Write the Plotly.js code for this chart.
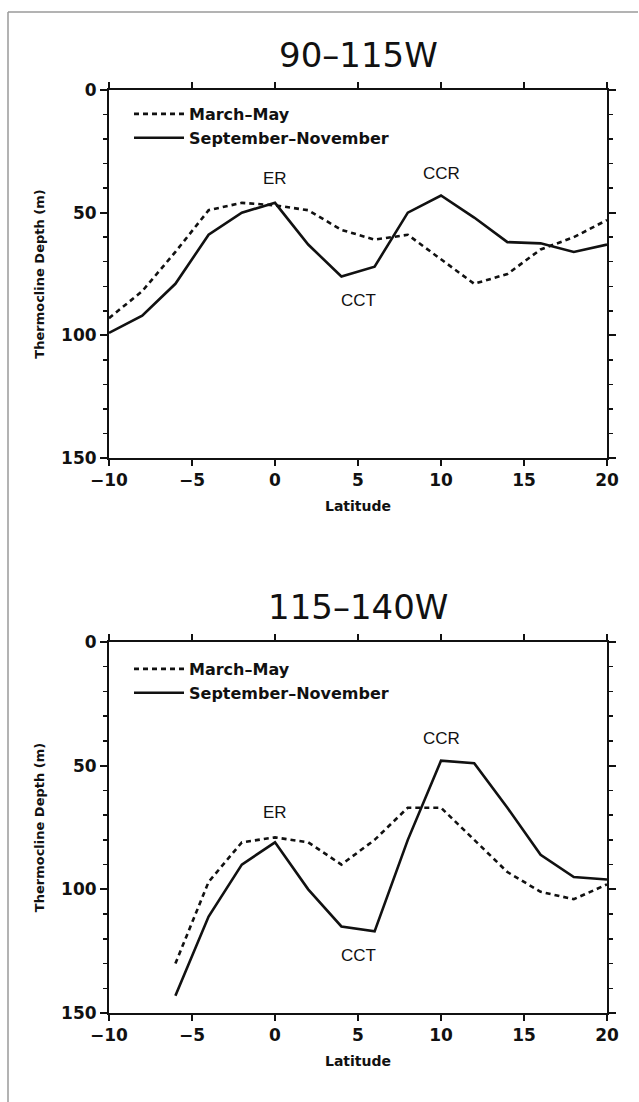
<!DOCTYPE html>
<html>
<head>
<meta charset="utf-8">
<script src="https://cdn.plot.ly/plotly-3.0.1.min.js"></script>
<style>html,body{margin:0;padding:0;background:#fff;}#chart{width:639px;height:1102px;}</style>
</head>
<body>
<div id="chart"></div>
<script>
// ---- data ----
const latTop = [-10,-8,-6,-4,-2,0,2,4,6,8,10,12,14,16,18,20];
const topMarMay = [93,82,66,49,46,47,49,57,61,59,69,79,75,65,60,53];
const topSepNov = [99,92,79,59,50,46,63,76,72,50,43,52,62,62.5,66,63];

const latBot = [-6,-4,-2,0,2,4,6,8,10,12,14,16,18,20];
const botMarMay = [130,97,81,79,81,90,80,67,67,80,93,101,104,98];
const botSepNov = [143,111,90,81,100,115,117,80,48,49,67,86,95,96];

const seriesNames = ["March\u2013May", "September\u2013November"];
const panelTitles = ["90\u2013115W", "115\u2013140W"];
const xTitle = "Latitude";
const yTitle = "Thermocline Depth (m)";
const yTickVals = [0,50,100,150];

// feature labels: [text, latitude, depth]
const topLabels = [["ER",0,36],["CCR",10,34],["CCT",5,86]];
const botLabels = [["ER",0,69],["CCR",10,39],["CCT",5,126.8]];

// ---- style ----
const dotLine = {color:"#111", width:2.6, dash:"5px,4px"};
const solidLine = {color:"#111", width:2.6};

function tr(x,y,name,line,xa,ya,leg){
  return {x:x,y:y,name:name,type:"scatter",mode:"lines",line:line,xaxis:xa,yaxis:ya,legend:leg,hoverinfo:"skip"};
}
const traces = [
  tr(latTop, topMarMay, seriesNames[0], dotLine, "x", "y", "legend"),
  tr(latTop, topSepNov, seriesNames[1], solidLine, "x", "y", "legend"),
  tr(latBot, botMarMay, seriesNames[0], dotLine, "x2", "y2", "legend2"),
  tr(latBot, botSepNov, seriesNames[1], solidLine, "x2", "y2", "legend2")
];

const W=639, H=1102;
const xDom=[109/W, 607/W];
const topDom=[1-458/H, 1-90/H];
const botDom=[1-1013/H, 1-642/H];

function xax(dom, anchor){
  return {domain:dom, anchor:anchor, range:[-10,20], dtick:5, tick0:0,
    showgrid:false, zeroline:false, showline:true, linewidth:2, linecolor:"#111",
    mirror:"ticks", ticks:"outside", ticklen:6, tickwidth:2, tickcolor:"#111",
    tickfont:{family:"DejaVu Sans, sans-serif", size:17, color:"#111", weight:"bold"},
    title:{text:xTitle, font:{family:"DejaVu Sans, sans-serif", size:14, color:"#111", weight:"bold"}, standoff:12}};
}
function yax(dom, anchor){
  return {domain:dom, anchor:anchor, range:[150,0], tickvals:yTickVals,
    showgrid:false, zeroline:false, showline:true, linewidth:2, linecolor:"#111",
    mirror:"ticks", ticks:"outside", ticklen:7, tickwidth:2, tickcolor:"#111",
    minor:{dtick:10, tick0:0, ticks:"outside", ticklen:4, tickwidth:1.5, tickcolor:"#111", showgrid:false},
    tickfont:{family:"DejaVu Sans, sans-serif", size:17, color:"#111", weight:"bold"},
    title:{text:yTitle, font:{family:"DejaVu Sans, sans-serif", size:13, color:"#111", weight:"bold"}, standoff:14}};
}

const annotations = [];
function addLabels(list, xr, yr){
  list.forEach(function(l){
    annotations.push({text:l[0], x:l[1], y:l[2], xref:xr, yref:yr, showarrow:false,
      font:{family:"Liberation Sans, Arial, sans-serif", size:17, color:"#111"}});
  });
}
addLabels(topLabels,"x","y");
addLabels(botLabels,"x2","y2");
annotations.push({text:panelTitles[0], xref:"paper", yref:"paper", x:358/W, y:1-55/H, xanchor:"center", yanchor:"middle", showarrow:false,
  font:{family:"DejaVu Sans, sans-serif", size:34, color:"#111"}});
annotations.push({text:panelTitles[1], xref:"paper", yref:"paper", x:358/W, y:1-607/H, xanchor:"center", yanchor:"middle", showarrow:false,
  font:{family:"DejaVu Sans, sans-serif", size:34, color:"#111"}});

function legendAt(ytop){
  return {x:129/W, y:1-ytop/H, xanchor:"left", yanchor:"top", bgcolor:"rgba(0,0,0,0)",
    borderwidth:0, itemwidth:50, tracegroupgap:0,
    font:{family:"DejaVu Sans, sans-serif", size:16, color:"#111", weight:"bold"}};
}

const layout = {
  width:W, height:H, margin:{l:0,r:0,t:0,b:0}, paper_bgcolor:"#fff", plot_bgcolor:"#fff",
  showlegend:true,
  xaxis:xax(xDom,"y"), yaxis:yax(topDom,"x"),
  xaxis2:xax(xDom,"y2"), yaxis2:yax(botDom,"x2"),
  legend:legendAt(97), legend2:legendAt(652),
  annotations:annotations,
  shapes:[
    {type:"line", xref:"paper", yref:"paper", x0:8/W, x1:8/W, y0:0, y1:1-12/H, line:{color:"#9a9a9a", width:1.5}},
    {type:"line", xref:"paper", yref:"paper", x0:8/W, x1:638/W, y0:1-12/H, y1:1-12/H, line:{color:"#9a9a9a", width:1.5}}
  ]
};
Plotly.newPlot("chart", traces, layout, {staticPlot:true, displayModeBar:false});
</script>
</body>
</html>
